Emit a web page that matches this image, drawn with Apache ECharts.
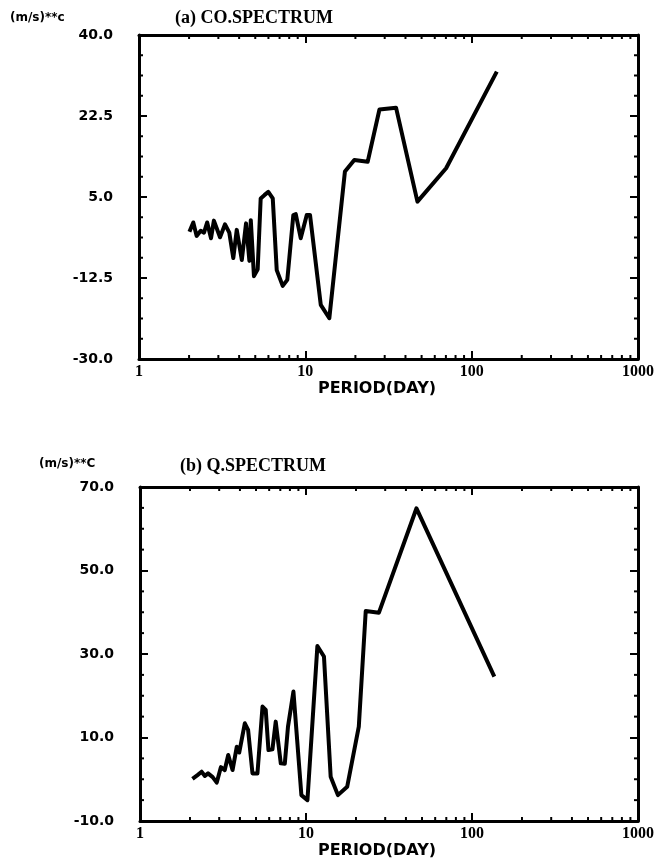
<!DOCTYPE html>
<html>
<head>
<meta charset="utf-8">
<script src="https://cdn.jsdelivr.net/npm/echarts@6/dist/echarts.min.js"></script>
<style>
html,body{margin:0;padding:0;background:#fff;}
#chart{width:662px;height:858px;}
</style>
</head>
<body>
<div id="chart"></div>
<script>
// ---- data ----
const periodsA = [2.01, 2.12, 2.22, 2.35, 2.46, 2.57, 2.71, 2.82, 3.07, 3.29, 3.49, 3.69, 3.87, 4.15, 4.40, 4.61, 4.70, 4.91, 5.17, 5.39, 5.67, 5.99, 6.37, 6.73, 7.31, 7.79, 8.47, 8.76, 9.38, 10.2, 10.67, 12.38, 13.94, 17.3, 19.7, 23.7, 27.9, 35.1, 47.2, 70.2, 141.6];
const valuesA  = [-2.5, -0.5, -3.4, -2.3, -2.7, -0.5, -3.9, -0.1, -3.7, -0.9, -2.7, -8.2, -2.1, -8.6, -0.7, -8.8, 0.0, -12.1, -10.6, 4.7, 5.4, 6.1, 4.7, -10.8, -14.2, -12.9, 1.1, 1.3, -3.9, 1.1, 1.1, -18.3, -21.2, 10.5, 13.0, 12.6, 23.9, 24.3, 4.0, 11.2, 32.1];

const periodsB = [2.07, 2.22, 2.35, 2.46, 2.57, 2.74, 2.90, 3.07, 3.24, 3.40, 3.61, 3.83, 3.96, 4.28, 4.48, 4.76, 5.10, 5.47, 5.72, 5.94, 6.28, 6.57, 7.05, 7.45, 7.79, 8.40, 9.38, 10.2, 11.71, 12.83, 14.08, 15.57, 17.7, 20.8, 22.9, 27.5, 46.3, 136.3];
const valuesB  = [0.1, 1.0, 1.8, 0.8, 1.4, 0.5, -0.8, 2.9, 2.2, 5.8, 2.2, 7.8, 6.4, 13.4, 11.8, 1.4, 1.4, 17.4, 16.6, 7.0, 7.2, 13.8, 3.8, 3.7, 12.6, 21.0, -3.8, -5.0, 31.9, 29.4, 0.6, -3.8, -1.8, 12.6, 40.3, 39.9, 64.9, 24.6];

const xTicks = [1, 10, 100, 1000];
const xMinorTicks = [2,3,4,5,6,7,8,9,20,30,40,50,60,70,80,90,200,300,400,500,600,700,800,900];
const yTicksA = [-30.0, -12.5, 5.0, 22.5, 40.0];
const yTicksB = [-10.0, 10.0, 30.0, 50.0, 70.0];
const yMinorPerStep = 4;

const titleA = '(a) CO.SPECTRUM';
const titleB = '(b) Q.SPECTRUM';
const unitA = '(m/s)**c';
const unitB = '(m/s)**C';
const xName = 'PERIOD(DAY)';

// ---- build ----
function minorOf(majors) {
  const out = [];
  for (let i = 0; i < majors.length - 1; i++) {
    const step = (majors[i+1] - majors[i]) / yMinorPerStep;
    for (let k = 1; k < yMinorPerStep; k++) out.push(majors[i] + k * step);
  }
  return out;
}
const zip = (a, b) => a.map((v, i) => [v, b[i]]);

const MAJOR = 8, MINOR = 4, FRAME = 3;
const yLabelFont = {fontFamily: 'DejaVu Sans', fontWeight: 'bold', fontSize: 14, color: '#000'};
const xLabelFont = {fontFamily: 'Liberation Serif', fontWeight: 'bold', fontSize: 16, color: '#000'};

function xAxes(gi) {
  const base = {
    type: 'log', logBase: 10, min: xTicks[0], max: xTicks[xTicks.length-1], gridIndex: gi,
    splitLine: {show: false},
    axisLine: {show: true, onZero: false, lineStyle: {color: '#000', width: FRAME}},
    axisTick: {show: true, inside: true, length: MAJOR, lineStyle: {color: '#000', width: 2}},
    minorTick: {show: false}
  };
  return [
    Object.assign({}, base, {position: 'bottom',
      axisLabel: Object.assign({show: true, margin: 5, formatter: v => String(Math.round(v))}, xLabelFont)}),
    Object.assign({}, base, {position: 'top', axisLabel: {show: false}})
  ];
}
function yAxes(gi, ticks) {
  const base = {
    type: 'value', min: ticks[0], max: ticks[ticks.length-1], gridIndex: gi,
    splitLine: {show: false},
    axisLine: {show: true, onZero: false, lineStyle: {color: '#000', width: FRAME}},
    axisTick: {show: true, inside: true, length: MAJOR, customValues: ticks, lineStyle: {color: '#000', width: 2}}
  };
  return [
    Object.assign({}, base, {position: 'left',
      axisLabel: Object.assign({show: true, margin: 26, customValues: ticks, formatter: v => v.toFixed(1)}, yLabelFont)}),
    Object.assign({}, base, {position: 'right', axisLabel: {show: false}})
  ];
}
function minorSeries(xi, yi, yTicks) {
  const xExt = [xTicks[0], xTicks[xTicks.length-1]];
  const yExt = [yTicks[0], yTicks[yTicks.length-1]];
  const data = [];
  xMinorTicks.forEach(v => data.push([v, yExt[0], 0]));
  minorOf(yTicks).forEach(v => data.push([xExt[0], v, 1]));
  const st = {stroke: '#000', lineWidth: 2};
  return {
    type: 'custom', xAxisIndex: xi, yAxisIndex: yi, silent: true, clip: false, z: 5,
    data: data,
    renderItem: function (params, api) {
      if (api.value(2) === 0) {
        const p0 = api.coord([api.value(0), yExt[0]]);
        const p1 = api.coord([api.value(0), yExt[1]]);
        return {type: 'group', children: [
          {type: 'line', shape: {x1: p0[0], y1: p0[1], x2: p0[0], y2: p0[1] - MINOR}, style: st},
          {type: 'line', shape: {x1: p1[0], y1: p1[1], x2: p1[0], y2: p1[1] + MINOR}, style: st}
        ]};
      } else {
        const p0 = api.coord([xExt[0], api.value(1)]);
        const p1 = api.coord([xExt[1], api.value(1)]);
        return {type: 'group', children: [
          {type: 'line', shape: {x1: p0[0], y1: p0[1], x2: p0[0] + MINOR, y2: p0[1]}, style: st},
          {type: 'line', shape: {x1: p1[0], y1: p1[1], x2: p1[0] - MINOR, y2: p1[1]}, style: st}
        ]};
      }
    }
  };
}
function lineSeries(xi, yi, px, vy) {
  return {
    type: 'line', xAxisIndex: xi, yAxisIndex: yi, data: zip(px, vy),
    showSymbol: false, symbol: 'none', smooth: false, z: 3,
    lineStyle: {color: '#000', width: 4, join: 'round'}
  };
}
function txt(x, y, text, font, align) {
  return {type: 'text', x: x, y: y, z: 100,
    style: {text: text, font: font, fill: '#000', align: align || 'left', verticalAlign: 'middle'}};
}

const chart = echarts.init(document.getElementById('chart'), null, {renderer: 'canvas'});
chart.setOption({
  animation: false,
  backgroundColor: '#fff',
  grid: [
    {left: 139, right: 24, top: 35, height: 324, containLabel: false},
    {left: 140, right: 24, top: 487, height: 334, containLabel: false}
  ],
  xAxis: xAxes(0).concat(xAxes(1)),
  yAxis: yAxes(0, yTicksA).concat(yAxes(1, yTicksB)),
  series: [
    lineSeries(0, 0, periodsA, valuesA),
    minorSeries(0, 0, yTicksA),
    lineSeries(2, 2, periodsB, valuesB),
    minorSeries(2, 2, yTicksB)
  ],
  graphic: [
    txt(10, 18, unitA, 'bold 12px "DejaVu Sans"'),
    txt(175, 18, titleA, 'bold 18px "Liberation Serif"'),
    txt(377, 389, xName, 'bold 16px "DejaVu Sans"', 'center'),
    txt(39, 464, unitB, 'bold 12px "DejaVu Sans"'),
    txt(180, 466, titleB, 'bold 18px "Liberation Serif"'),
    txt(377, 851, xName, 'bold 16px "DejaVu Sans"', 'center')
  ]
});
</script>
</body>
</html>
